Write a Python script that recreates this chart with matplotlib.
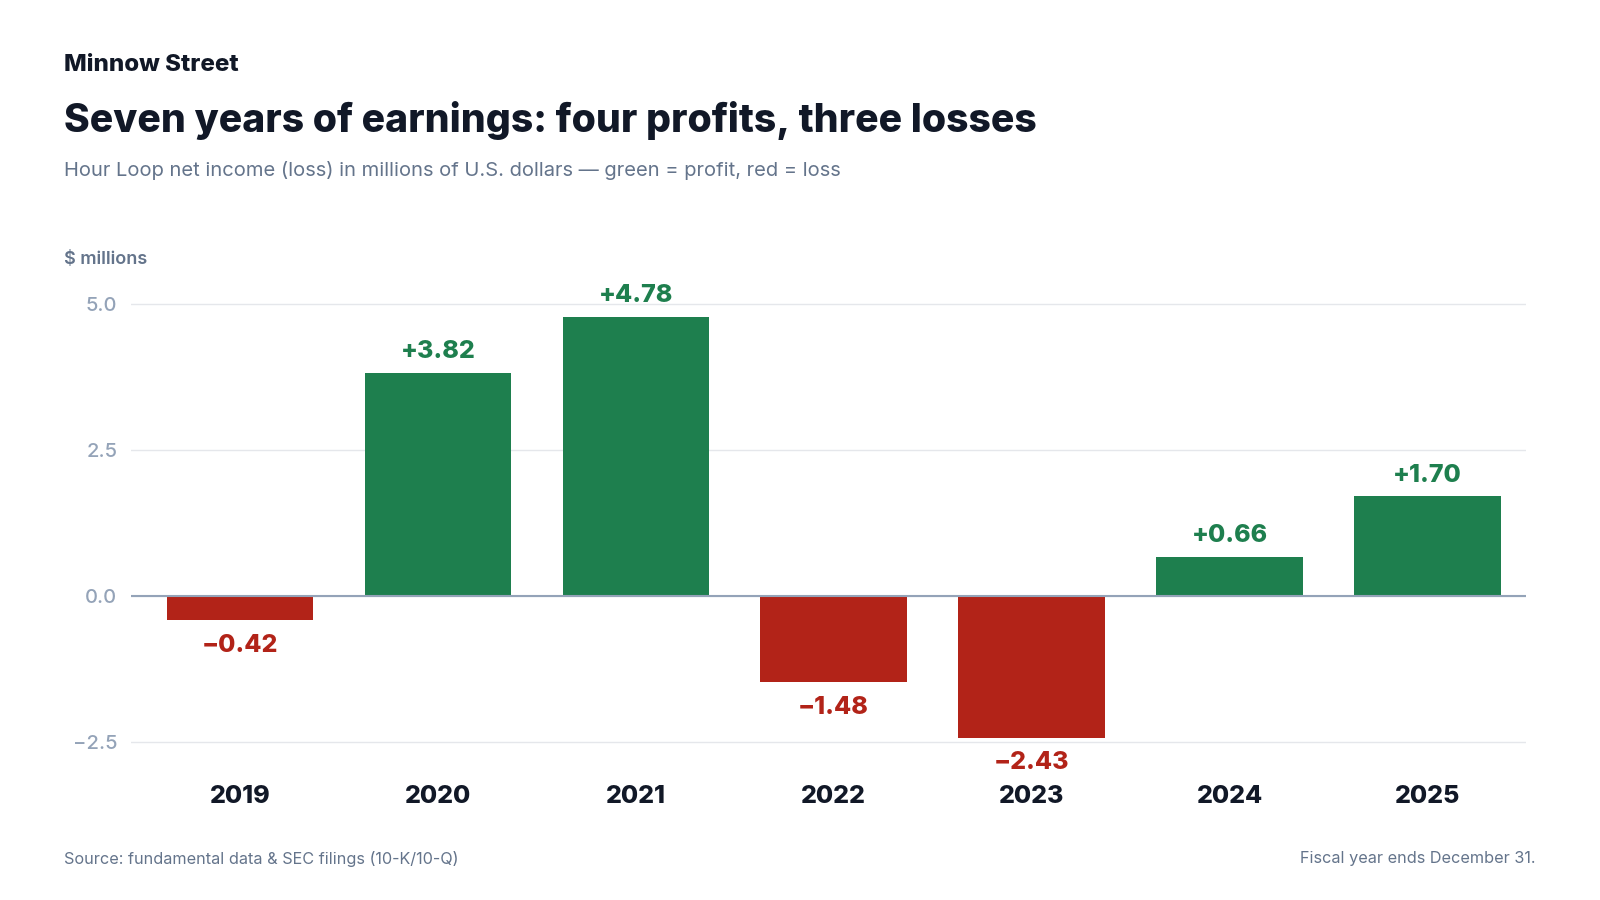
import matplotlib.pyplot as plt

years = ["2019", "2020", "2021", "2022", "2023", "2024", "2025"]
net_income = [-0.42, 3.82, 4.78, -1.48, -2.43, 0.66, 1.70]
value_labels = ["\u22120.42", "+3.82", "+4.78", "\u22121.48", "\u22122.43", "+0.66", "+1.70"]
y_ticks = [-2.5, 0.0, 2.5, 5.0]
y_tick_labels = ["\u22122.5", "0.0", "2.5", "5.0"]

GREEN = "#1e7f4e"
RED = "#b22318"
DARK = "#111827"
GREY = "#64748b"
TICK = "#94a3b8"

plt.rcParams["font.family"] = ["Inter", "DejaVu Sans"]

fig = plt.figure(figsize=(16, 9), dpi=100)
ax = fig.add_axes([0.0819, 1 - 776.7 / 900, 0.954 - 0.0819, (776.7 - 274.5) / 900])

x = list(range(len(years)))
colors = [GREEN if v >= 0 else RED for v in net_income]
ax.bar(x, net_income, width=0.74, color=colors, zorder=2)

for xi, v, lab, c in zip(x, net_income, value_labels, colors):
    if v >= 0:
        ax.annotate(lab, (xi, v), xytext=(0, 7), textcoords="offset points",
                    ha="center", va="bottom", fontsize=18, fontweight=800, color=c)
    else:
        ax.annotate(lab, (xi, v), xytext=(0, -10), textcoords="offset points",
                    ha="center", va="top", fontsize=18, fontweight=800, color=c)

ax.set_xlim(-0.55, 6.5)
ax.set_ylim(-3.1, 5.5)
ax.set_yticks(y_ticks)
ax.set_yticklabels(y_tick_labels)
ax.set_xticks(x)
ax.set_xticklabels(years)
ax.tick_params(axis="x", length=0, pad=6, labelsize=18, labelcolor=DARK)
ax.tick_params(axis="y", length=0, pad=10, labelsize=14.5, labelcolor=TICK)
for lab in ax.get_xticklabels():
    lab.set_fontweight(800)
for lab in ax.get_yticklabels():
    lab.set_fontweight("medium")

ax.grid(axis="y", color="#e5e7eb", linewidth=1, zorder=0)
ax.axhline(0, color=TICK, linewidth=1.5, zorder=3)
for s in ax.spines.values():
    s.set_visible(False)

fig.text(64 / 1600, 1 - 65 / 900, "Minnow Street", fontsize=17.3, fontweight=800,
         color=DARK, va="center", ha="left")
fig.text(64 / 1600, 1 - 121 / 900, "Seven years of earnings: four profits, three losses",
         fontsize=28.2, fontweight=800, color=DARK, va="center", ha="left")
fig.text(64 / 1600, 1 - 170 / 900,
         "Hour Loop net income (loss) in millions of U.S. dollars \u2014 green = profit, red = loss",
         fontsize=14.5, color=GREY, va="center", ha="left")
fig.text(64 / 1600, 1 - 259 / 900, "$ millions", fontsize=13, fontweight="semibold",
         color=GREY, va="center", ha="left")
fig.text(64 / 1600, 1 - 859 / 900, "Source: fundamental data & SEC filings (10-K/10-Q)",
         fontsize=11.7, color=GREY, va="center", ha="left")
fig.text(1535 / 1600, 1 - 859 / 900, "Fiscal year ends December 31.",
         fontsize=11.7, color=GREY, va="center", ha="right")

fig.savefig("out.png", dpi=100, facecolor="white")
